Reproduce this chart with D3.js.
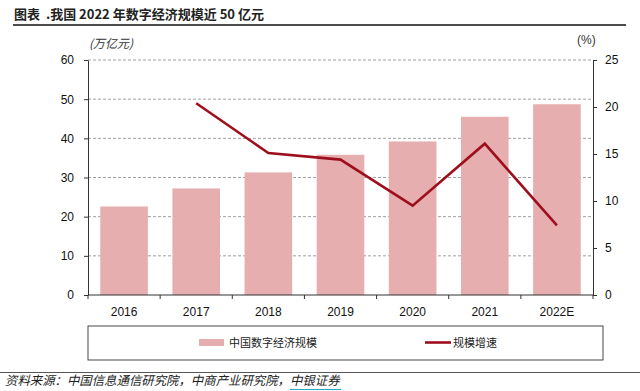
<!DOCTYPE html>
<html>
<head>
<meta charset="utf-8">
<script src="https://cdn.jsdelivr.net/npm/d3@7"></script>
<style>
  body { margin: 0; background: #fff; }
  svg { display: block; font-family: "Liberation Sans", Arial, "Noto Sans CJK SC", sans-serif; }
</style>
</head>
<body>
<svg width="640" height="391"></svg>
<script>
const years = ["2016", "2017", "2018", "2019", "2020", "2021", "2022E"];
const scale = [22.6, 27.2, 31.3, 35.8, 39.2, 45.5, 48.7];   // 万亿元
const growth = [null, 20.4, 15.1, 14.4, 9.5, 16.1, 7.4];    // %
const leftTicks = [0, 10, 20, 30, 40, 50, 60];
const rightTicks = [0, 5, 10, 15, 20, 25];

const barColor = "#e6aeae";
const lineColor = "#9e0f1d";
const cjk = '"Noto Sans CJK SC", sans-serif';

const svg = d3.select("svg");
const plotL = 88, plotR = 593, plotT = 60, plotB = 295;

const x = d3.scaleBand().domain(years).range([plotL, plotR]).paddingInner(0.34).paddingOuter(0.17);
const y = d3.scaleLinear().domain([0, 60]).range([plotB, plotT]);
const y2 = d3.scaleLinear().domain([0, 25]).range([plotB, plotT]);

// title
svg.append("text").attr("x", 14).attr("y", 19).style("white-space", "pre")
  .attr("font-family", cjk).attr("font-size", 13).attr("font-weight", "bold").attr("fill", "#222")
  .text("图表  .我国 2022 年数字经济规模近 50 亿元");
svg.append("line").attr("x1", 13).attr("x2", 626).attr("y1", 25).attr("y2", 25)
  .attr("stroke", "#111").attr("stroke-width", 1.6);

// grid
svg.append("g").selectAll("line").data(leftTicks.slice(1)).join("line")
  .attr("x1", plotL).attr("x2", plotR).attr("y1", d => y(d)).attr("y2", d => y(d))
  .attr("stroke", "#888").attr("stroke-dasharray", "3,2").attr("stroke-width", 0.8);

// bars
svg.append("g").selectAll("rect").data(years).join("rect")
  .attr("x", d => x(d)).attr("width", x.bandwidth())
  .attr("y", (d, i) => y(scale[i])).attr("height", (d, i) => y(0) - y(scale[i]))
  .attr("fill", barColor);

// line
const pts = years.map((d, i) => [d, growth[i]]).filter(p => p[1] != null);
svg.append("path").datum(pts)
  .attr("fill", "none").attr("stroke", lineColor).attr("stroke-width", 2.6)
  .attr("d", d3.line().x(p => x(p[0]) + x.bandwidth() / 2).y(p => y2(p[1])));

// axes
const styleAxis = g => {
  g.select(".domain").attr("stroke", "#333");
  g.selectAll(".tick line").attr("stroke", "#333");
  g.selectAll(".tick text").attr("font-size", 12).attr("fill", "#111");
};
svg.append("g").attr("transform", `translate(${plotL},0)`)
  .call(d3.axisLeft(y).tickValues(leftTicks).tickSize(4).tickSizeOuter(0).tickPadding(10))
  .call(styleAxis);
svg.append("g").attr("transform", `translate(${plotR},0)`)
  .call(d3.axisRight(y2).tickValues(rightTicks).tickSize(4).tickSizeOuter(0).tickPadding(8))
  .call(styleAxis);

const xg = svg.append("g").attr("transform", `translate(0,${plotB})`);
xg.append("line").attr("x1", plotL).attr("x2", plotR).attr("stroke", "#333");
xg.selectAll(".sep").data(d3.range(years.length + 1)).join("line")
  .attr("x1", i => plotL + i * (plotR - plotL) / years.length)
  .attr("x2", i => plotL + i * (plotR - plotL) / years.length)
  .attr("y1", 0).attr("y2", 4).attr("stroke", "#333");
xg.selectAll("text").data(years).join("text")
  .attr("x", d => x(d) + x.bandwidth() / 2).attr("y", 21)
  .attr("text-anchor", "middle").attr("font-size", 12).attr("fill", "#111").text(d => d);

// unit labels
svg.append("text").attr("x", 89).attr("y", 48).attr("font-family", cjk)
  .attr("font-size", 12).attr("font-style", "italic").attr("fill", "#333").text("(万亿元)");
svg.append("text").attr("x", 577).attr("y", 44)
  .attr("font-size", 12).attr("fill", "#333").text("(%)");

// legend
svg.append("rect").attr("x", 88).attr("y", 326).attr("width", 515).attr("height", 34)
  .attr("fill", "none").attr("stroke", "#333").attr("stroke-width", 0.9);
svg.append("rect").attr("x", 199).attr("y", 339).attr("width", 25).attr("height", 7).attr("fill", barColor);
svg.append("text").attr("x", 229).attr("y", 347).attr("font-family", cjk)
  .attr("font-size", 11).attr("fill", "#222").text("中国数字经济规模");
svg.append("line").attr("x1", 425).attr("x2", 451).attr("y1", 342.5).attr("y2", 342.5)
  .attr("stroke", lineColor).attr("stroke-width", 2.6);
svg.append("text").attr("x", 453).attr("y", 347).attr("font-family", cjk)
  .attr("font-size", 11).attr("fill", "#222").text("规模增速");

// footer
svg.append("line").attr("x1", 0).attr("x2", 640).attr("y1", 372.5).attr("y2", 372.5)
  .attr("stroke", "#555").attr("stroke-width", 1.2);
const src = svg.append("text").attr("x", 5).attr("y", 385).attr("font-family", cjk)
  .attr("font-size", 12.4).attr("font-style", "italic").attr("fill", "#222");
src.append("tspan").text("资料来源：中国信息通信研究院，中商产业研究院，");
src.append("tspan").attr("id", "brand").text("中银证券");
const b = document.getElementById("brand").getBBox();
svg.append("line").attr("x1", b.x).attr("x2", b.x + b.width).attr("y1", 389.5).attr("y2", 389.5)
  .attr("stroke", "#2aa6c8").attr("stroke-width", 1.2);
</script>
</body>
</html>
